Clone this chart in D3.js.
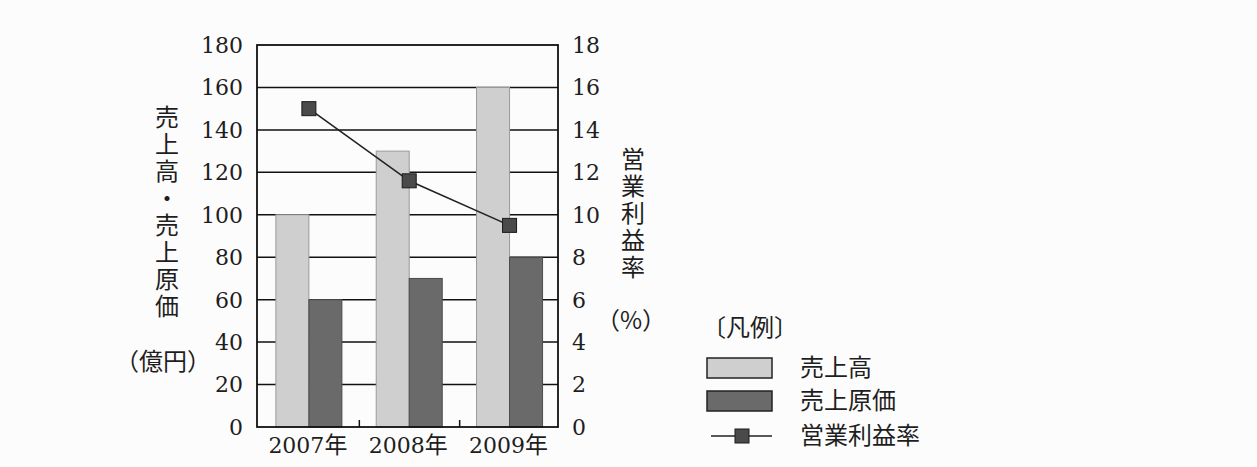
<!DOCTYPE html>
<html><head><meta charset="utf-8">
<script src="https://cdn.jsdelivr.net/npm/d3@7"></script>
<style>
html,body{margin:0;padding:0;background:#fcfcfc;}
text{fill:#1e1e1e;}
</style></head>
<body><svg id="c" width="1257" height="467"></svg>
<script>
const years = ["2007年", "2008年", "2009年"];
const seriesNames = ["売上高", "売上原価"];
const sales = [100, 130, 160];
const cost = [60, 70, 80];
const margin = [15, 11.6, 9.5];
const leftTicks = [0, 20, 40, 60, 80, 100, 120, 140, 160, 180];
const rightTicks = [0, 2, 4, 6, 8, 10, 12, 14, 16, 18];
const leftTitle = "売上高・売上原価";
const leftUnit = "（億円）";
const rightTitle = "営業利益率";
const rightUnit = "（%）";
const legendTitle = "〔凡例〕";
const lineName = "営業利益率";

const SERIF = '"DejaVu Serif","Times New Roman","Liberation Serif",serif';
const JP = '"Noto Sans CJK JP","Noto Sans CJK SC",sans-serif';
const svg = d3.select("#c");
const L = 257, R = 558, T = 45, B = 427;
const x0 = d3.scaleBand().domain(years).range([L, R]).padding(0);
const x1 = d3.scaleBand().domain(seriesNames).range([0, x0.bandwidth()]).paddingInner(0).paddingOuter(0.52).align(0.55);
const y = d3.scaleLinear().domain([0, 180]).range([B, T]);
const yR = d3.scaleLinear().domain([0, 18]).range([B, T]);
const fills = ["#cfcfcf", "#6a6a6a"];

function num(sel) { return sel.style("font-family", SERIF).style("font-size", "22px"); }
function jp(sel, size) { return sel.style("font-family", JP).style("font-size", (size || 24) + "px"); }

// gridlines
svg.append("g").selectAll("line").data(leftTicks.slice(1, -1)).join("line")
  .attr("x1", L).attr("x2", R).attr("y1", d => y(d)).attr("y2", d => y(d))
  .attr("stroke", "#111").attr("stroke-width", 1.5);

// bars
const data = years.map((yr, i) => ({yr, vals: [sales[i], cost[i]]}));
const g = svg.append("g").selectAll("g").data(data).join("g")
  .attr("transform", d => `translate(${x0(d.yr)},0)`);
g.selectAll("rect").data(d => d.vals.map((v, j) => ({v, s: seriesNames[j], j}))).join("rect")
  .attr("x", d => x1(d.s)).attr("width", x1.bandwidth())
  .attr("y", d => y(d.v)).attr("height", d => y(0) - y(d.v))
  .attr("fill", d => fills[d.j])
  .attr("stroke", d => d.j === 0 ? "#9a9a9a" : "#4a4a4a").attr("stroke-width", 1);

// frame
svg.append("rect").attr("x", L).attr("y", T).attr("width", R - L).attr("height", B - T)
  .attr("fill", "none").attr("stroke", "#111").attr("stroke-width", 1.8);

// small category separator ticks
svg.append("g").selectAll("line").data(years.slice(1)).join("line")
  .attr("x1", d => x0(d) + 2).attr("x2", d => x0(d) + 2).attr("y1", B).attr("y2", B - 7)
  .attr("stroke", "#111").attr("stroke-width", 1.5);

// axes labels
svg.append("g").selectAll("text").data(leftTicks).join("text").call(num)
  .attr("x", 243).attr("y", d => y(d)).attr("dy", "0.36em").attr("text-anchor", "end").text(d => d);
svg.append("g").selectAll("text").data(rightTicks).join("text").call(num)
  .attr("x", 572).attr("y", d => yR(d)).attr("dy", "0.36em").attr("text-anchor", "start").text(d => d);
svg.append("g").selectAll("text").data(years).join("text").call(num)
  .attr("x", d => x0(d) + x1(seriesNames[1]) - 1).attr("y", 453).attr("text-anchor", "middle")
  .each(function(d) {
    const t = d3.select(this);
    t.append("tspan").text(d.replace("年", ""));
    t.append("tspan").call(jp, 23).text("年");
  });

// line series
const pts = years.map((yr, i) => [x0(yr) + x1(seriesNames[1]), yR(margin[i])]);
svg.append("path").attr("d", d3.line()(pts)).attr("fill", "none").attr("stroke", "#222").attr("stroke-width", 1.6);
svg.append("g").selectAll("rect").data(pts).join("rect")
  .attr("x", d => d[0] - 7).attr("y", d => d[1] - 7).attr("width", 14).attr("height", 14)
  .attr("fill", "#4a4a4a").attr("stroke", "#1a1a1a").attr("stroke-width", 1);

// vertical titles
svg.append("text").call(jp, 24)
  .attr("x", 167).attr("y", 105)
  .style("writing-mode", "vertical-rl").style("glyph-orientation-vertical", "0")
  .style("letter-spacing", "3px").text(leftTitle);
svg.append("text").call(jp, 24).attr("x", 163).attr("y", 362).attr("dy", "0.35em")
  .attr("text-anchor", "middle").text(leftUnit);

svg.append("text").call(jp, 24)
  .attr("x", 633).attr("y", 147)
  .style("writing-mode", "vertical-rl").style("glyph-orientation-vertical", "0")
  .style("letter-spacing", "3px").text(rightTitle);
svg.append("text").call(jp, 24).attr("x", 631).attr("y", 321).attr("dy", "0.35em")
  .attr("text-anchor", "middle").text(rightUnit);

// legend
svg.append("text").call(jp, 24).attr("x", 702).attr("y", 328).attr("dy", "0.35em").text(legendTitle);
const lg = svg.append("g");
const swY = [358, 391];
lg.selectAll("rect.sw").data(seriesNames).join("rect").attr("class", "sw")
  .attr("x", 707).attr("y", (d, i) => swY[i]).attr("width", 65).attr("height", 20)
  .attr("fill", (d, i) => fills[i]).attr("stroke", "#222").attr("stroke-width", 1.5);
lg.selectAll("text.lb").data(seriesNames.concat([lineName])).join("text").attr("class", "lb").call(jp, 24)
  .attr("x", 800).attr("y", (d, i) => [368, 401, 436][i]).attr("dy", "0.35em").text(d => d);
lg.append("line").attr("x1", 711).attr("x2", 772).attr("y1", 436).attr("y2", 436)
  .attr("stroke", "#222").attr("stroke-width", 1.6);
lg.append("rect").attr("x", 735).attr("y", 429).attr("width", 14).attr("height", 14)
  .attr("fill", "#4a4a4a").attr("stroke", "#1a1a1a").attr("stroke-width", 1);
</script></body></html>
